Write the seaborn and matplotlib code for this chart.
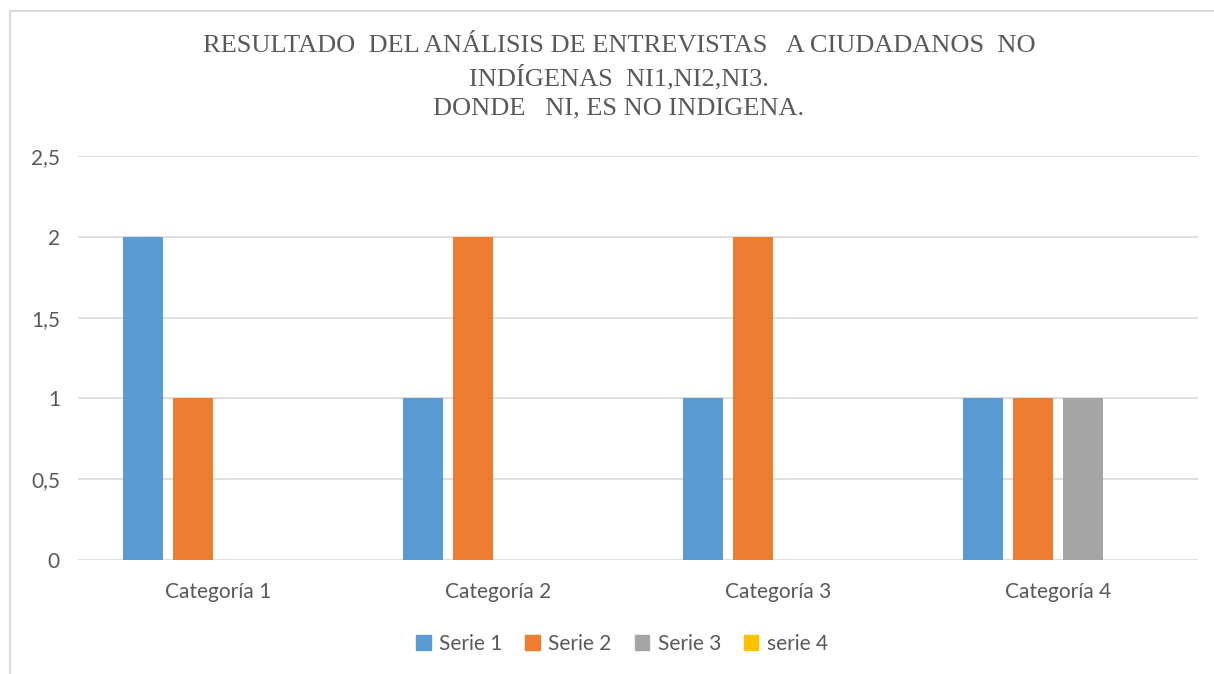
import pandas as pd
import seaborn as sns
import matplotlib.pyplot as plt
from matplotlib.lines import Line2D
from matplotlib.ticker import FixedLocator

categorias = ["Categoría 1", "Categoría 2", "Categoría 3", "Categoría 4"]
series = ["Serie 1", "Serie 2", "Serie 3", "serie 4"]
serie1 = [2, 1, 1, 1]
serie2 = [1, 2, 2, 1]
serie3 = [0, 0, 0, 1]
serie4 = [0, 0, 0, 0]
colores = ["#5B9BD5", "#ED7D31", "#A5A5A5", "#FFC000"]
yticks = [0, 0.5, 1, 1.5, 2, 2.5]
ytick_labels = ["0", "0,5", "1", "1,5", "2", "2,5"]
titulo = ("RESULTADO  DEL ANÁLISIS DE ENTREVISTAS   A CIUDADANOS  NO\n"
          "INDÍGENAS  NI1,NI2,NI3.\n"
          "DONDE   NI, ES NO INDIGENA.")

rows = []
for nombre, vals in zip(series, [serie1, serie2, serie3, serie4]):
    for cat, v in zip(categorias, vals):
        rows.append({"categoria": cat, "serie": nombre, "valor": v})
df = pd.DataFrame(rows)

sns.set_theme(style="white")
plt.rcParams["font.family"] = ["Lato", "DejaVu Sans"]
gris = "#595959"

fig = plt.figure(figsize=(12.14, 6.74), dpi=100)
ax = fig.add_axes([78 / 1214, 1 - 560 / 674, 1120 / 1214, 404 / 674])

sns.barplot(data=df, x="categoria", y="valor", hue="serie", palette=colores,
            saturation=1, width=200 / 280, gap=0.2, linewidth=0,
            ax=ax, legend=False, zorder=3)

ax.set_ylim(0, 2.5)
ax.set_xlim(-0.5, 3.5)
ax.yaxis.set_major_locator(FixedLocator(yticks))
ax.set_yticklabels(ytick_labels)
ax.grid(axis="y", color="#d9d9d9", linewidth=1.2, zorder=0)
ax.set_axisbelow(True)
for s in ax.spines.values():
    s.set_visible(False)
ax.set_xlabel("")
ax.set_ylabel("")
ax.tick_params(axis="both", length=0, labelsize=15, labelcolor=gris)
ax.tick_params(axis="x", pad=16)
ax.tick_params(axis="y", pad=13)

fig.text(619 / 1214, 1 - 35 / 674, titulo, ha="center", va="top",
         family="Liberation Serif", fontsize=19, color=gris, linespacing=1.4)

handles = [plt.Rectangle((0, 0), 1, 1, color=c) for c in colores]
fig.legend(handles, series, loc="center", bbox_to_anchor=(622 / 1214, 1 - 644 / 674),
           ncol=4, frameon=False, fontsize=15, labelcolor=gris,
           handlelength=0.7, handleheight=0.7, handletextpad=0.4, columnspacing=1.1)

# chart border (left and top edges visible)
fig.add_artist(Line2D([10 / 1214, 10 / 1214], [0, 1 - 11 / 674], color="#d9d9d9",
                      linewidth=1.5, transform=fig.transFigure))
fig.add_artist(Line2D([10 / 1214, 1], [1 - 11 / 674, 1 - 11 / 674], color="#d9d9d9",
                      linewidth=1.5, transform=fig.transFigure))

fig.savefig("out.png", dpi=100, facecolor="white")
